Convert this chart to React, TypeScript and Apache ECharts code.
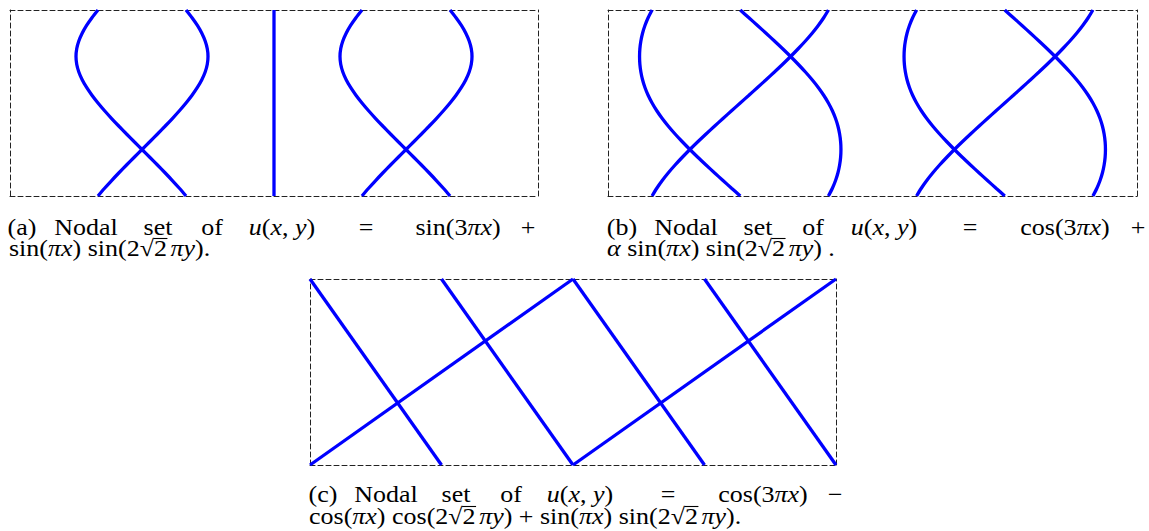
import React, { useEffect, useRef } from "react";
import * as echarts from "echarts";

// Domain of every panel: x in [0, 2], y in [0, 1/sqrt(2)]
const X_MIN = 0;
const X_MAX = 2;
const Y_MIN = 0;
const Y_MAX = 0.7071;

const Y_LEVELS = [
  0, 0.0295, 0.0589, 0.0884, 0.1179, 0.1473, 0.1768, 0.2062, 0.2357, 0.2652,
  0.2946, 0.3241, 0.3536, 0.383, 0.4125, 0.4419, 0.4714, 0.5009, 0.5303,
  0.5598, 0.5893, 0.6187, 0.6482, 0.6776, 0.7071,
];

// Panel (a): x positions of each nodal curve at Y_LEVELS
const A_CURVE_1 = [
  0.3333, 0.3583, 0.385, 0.4128, 0.4414, 0.4706, 0.5, 0.5294, 0.5586, 0.5872,
  0.615, 0.6417, 0.6667, 0.6896, 0.7098, 0.7266, 0.7393, 0.7473, 0.75, 0.7473,
  0.7393, 0.7266, 0.7098, 0.6896, 0.6667,
];
const A_CURVE_2 = [
  0.6667, 0.6417, 0.615, 0.5872, 0.5586, 0.5294, 0.5, 0.4706, 0.4414, 0.4128,
  0.385, 0.3583, 0.3333, 0.3104, 0.2902, 0.2734, 0.2607, 0.2527, 0.25, 0.2527,
  0.2607, 0.2734, 0.2902, 0.3104, 0.3333,
];
const A_CURVE_3 = [
  1.3333, 1.3583, 1.385, 1.4128, 1.4414, 1.4706, 1.5, 1.5294, 1.5586, 1.5872,
  1.615, 1.6417, 1.6667, 1.6896, 1.7098, 1.7266, 1.7393, 1.7473, 1.75, 1.7473,
  1.7393, 1.7266, 1.7098, 1.6896, 1.6667,
];
const A_CURVE_4 = [
  1.6667, 1.6417, 1.615, 1.5872, 1.5586, 1.5294, 1.5, 1.4706, 1.4414, 1.4128,
  1.385, 1.3583, 1.3333, 1.3104, 1.2902, 1.2734, 1.2607, 1.2527, 1.25, 1.2527,
  1.2607, 1.2734, 1.2902, 1.3104, 1.3333,
];
const A_MID_X = [1, 1];
const A_MID_Y = [0, 0.7071];

// Panel (b)
const B_CURVE_1 = [
  0.1667, 0.1845, 0.2051, 0.2282, 0.2536, 0.281, 0.3096, 0.3396, 0.3707, 0.4024,
  0.4347, 0.4672, 0.5, 0.5328, 0.5653, 0.5976, 0.6293, 0.6604, 0.6904, 0.719,
  0.7464, 0.7718, 0.7949, 0.8155, 0.8333,
];
const B_CURVE_2 = [
  0.5, 0.4672, 0.4347, 0.4024, 0.3707, 0.3396, 0.3096, 0.281, 0.2536, 0.2282,
  0.2051, 0.1845, 0.1667, 0.1517, 0.1397, 0.1306, 0.1243, 0.1205, 0.1193,
  0.1205, 0.1243, 0.1306, 0.1397, 0.1517, 0.1667,
];
const B_CURVE_3 = [
  0.8333, 0.8483, 0.8603, 0.8694, 0.8757, 0.8795, 0.8807, 0.8795, 0.8757,
  0.8694, 0.8603, 0.8483, 0.8333, 0.8155, 0.7949, 0.7718, 0.7464, 0.719, 0.6904,
  0.6604, 0.6293, 0.5976, 0.5653, 0.5328, 0.5,
];
const B_CURVE_4 = [
  1.1667, 1.1845, 1.2051, 1.2282, 1.2536, 1.281, 1.3096, 1.3396, 1.3707, 1.4024,
  1.4347, 1.4672, 1.5, 1.5328, 1.5653, 1.5976, 1.6293, 1.6604, 1.6904, 1.719,
  1.7464, 1.7718, 1.7949, 1.8155, 1.8333,
];
const B_CURVE_5 = [
  1.5, 1.4672, 1.4347, 1.4024, 1.3707, 1.3396, 1.3096, 1.281, 1.2536, 1.2282,
  1.2051, 1.1845, 1.1667, 1.1517, 1.1397, 1.1306, 1.1243, 1.1205, 1.1193,
  1.1205, 1.1243, 1.1306, 1.1397, 1.1517, 1.1667,
];
const B_CURVE_6 = [
  1.8333, 1.8483, 1.8603, 1.8694, 1.8757, 1.8795, 1.8807, 1.8795, 1.8757,
  1.8694, 1.8603, 1.8483, 1.8333, 1.8155, 1.7949, 1.7718, 1.7464, 1.719, 1.6904,
  1.6604, 1.6293, 1.5976, 1.5653, 1.5328, 1.5,
];

// Panel (c): straight nodal lines, [x at bottom, x at top]
const C_LINES_X = [
  [0, 1],
  [1, 2],
  [0.5, 0],
  [1, 0.5],
  [1.5, 1],
  [2, 1.5],
];
const C_LINES_Y = [0, 0.7071];

// Captions
const CAP_A_WORDS = ["(a)", "Nodal", "set", "of", "{i|u}({i|x}, {i|y})", "=", "sin(3{i|πx})", "+"];
const CAP_B_WORDS = ["(b)", "Nodal", "set", "of", "{i|u}({i|x}, {i|y})", "=", "cos(3{i|πx})", "+"];
const CAP_C_WORDS = ["(c)", "Nodal", "set", "of", "{i|u}({i|x}, {i|y})", "=", "cos(3{i|πx})", "−"];
// pieces: [text, kind] kind 0 = upright, 1 = italic, 2 = upright under the radical bar
const CAP_A_LINE2: [string, number][] = [
  ["sin(", 0], ["πx", 1], [") sin(2√", 0], ["2", 2], [" ", 3], ["πy", 1], [").", 0],
];
const CAP_B_LINE2: [string, number][] = [
  ["α", 1], [" sin(", 0], ["πx", 1], [") sin(2√", 0], ["2", 2], [" ", 3], ["πy", 1], [") .", 0],
];
const CAP_C_LINE2: [string, number][] = [
  ["cos(", 0], ["πx", 1], [") cos(2√", 0], ["2", 2], [" ", 3], ["πy", 1],
  [") + sin(", 0], ["πx", 1], [") sin(2√", 0], ["2", 2], [" ", 3], ["πy", 1], [").", 0],
];

const FONT_FAMILY = '"Liberation Serif", "Times New Roman", serif';
const FS = 23;
const SX = 1.13;
const BLUE = "#0000ff";

export default function App() {
  const ref = useRef<HTMLDivElement>(null);

  useEffect(() => {
    if (!ref.current) return;
    const chart = echarts.init(ref.current, undefined, { renderer: "svg" });

    const canvas = document.createElement("canvas");
    const ctx = canvas.getContext("2d")!;
    const measure = (s: string, italic: boolean) => {
      ctx.font = `${italic ? "italic " : ""}${FS}px ${FONT_FAMILY}`;
      return ctx.measureText(s).width * SX;
    };

    const grids = [
      { left: 10, top: 10, width: 528, height: 186 },
      { left: 608, top: 10, width: 529, height: 186 },
      { left: 310, top: 279, width: 526, height: 186 },
    ];

    const axisLine = {
      show: true,
      onZero: false,
      lineStyle: { color: "#222222", width: 1, type: [5, 3] as any },
    };
    const xAxes: any[] = [];
    const yAxes: any[] = [];
    grids.forEach((_, gi) => {
      ["bottom", "top"].forEach((pos) =>
        xAxes.push({
          type: "value", gridIndex: gi, position: pos, min: X_MIN, max: X_MAX,
          axisLabel: { show: false }, axisTick: { show: false }, splitLine: { show: false },
          axisLine,
        })
      );
      ["left", "right"].forEach((pos) =>
        yAxes.push({
          type: "value", gridIndex: gi, position: pos, min: Y_MIN, max: Y_MAX,
          axisLabel: { show: false }, axisTick: { show: false }, splitLine: { show: false },
          axisLine,
        })
      );
    });

    const curve = (gi: number, xs: number[], ys: number[], smooth: number) => ({
      type: "line",
      xAxisIndex: gi * 2,
      yAxisIndex: gi * 2,
      data: xs.map((x, i) => [x, ys[i]]),
      showSymbol: false,
      symbol: "none",
      smooth,
      clip: true,
      silent: true,
      z: 3,
      lineStyle: { color: BLUE, width: 3.3, cap: "butt" },
    });

    const series: any[] = [
      curve(0, A_CURVE_1, Y_LEVELS, 0.3),
      curve(0, A_CURVE_2, Y_LEVELS, 0.3),
      curve(0, A_CURVE_3, Y_LEVELS, 0.3),
      curve(0, A_CURVE_4, Y_LEVELS, 0.3),
      curve(0, A_MID_X, A_MID_Y, 0),
      curve(1, B_CURVE_1, Y_LEVELS, 0.3),
      curve(1, B_CURVE_2, Y_LEVELS, 0.3),
      curve(1, B_CURVE_3, Y_LEVELS, 0.3),
      curve(1, B_CURVE_4, Y_LEVELS, 0.3),
      curve(1, B_CURVE_5, Y_LEVELS, 0.3),
      curve(1, B_CURVE_6, Y_LEVELS, 0.3),
      ...C_LINES_X.map((xs) => curve(2, xs, C_LINES_Y, 0)),
    ];

    const rich = {
      i: { fontStyle: "italic", fontSize: FS, fontFamily: FONT_FAMILY, fill: "#000", color: "#000" },
    };
    const txt = (x: number, y: number, text: string, align: string, italic = false) => ({
      type: "text",
      x,
      y,
      scaleX: SX,
      silent: true,
      style: {
        text,
        fill: "#000",
        fontSize: FS,
        fontFamily: FONT_FAMILY,
        fontStyle: italic ? "italic" : "normal",
        align,
        textAlign: align,
        verticalAlign: "middle",
        textVerticalAlign: "middle",
        rich,
      },
    });

    const graphics: any[] = [];
    const line1 = (words: string[], centers: number[], y: number) => {
      words.forEach((w, i) => graphics.push(txt(centers[i], y, w, "center")));
    };
    const line2 = (pieces: [string, number][], x0: number, y: number) => {
      let cx = x0;
      pieces.forEach(([s, k]) => {
        if (k === 3) {
          cx += measure(" ", false) * 0.55;
          return;
        }
        const wdt = measure(s, k === 1);
        graphics.push(txt(cx, y, s, "left", k === 1));
        if (k === 2) {
          graphics.push({
            type: "line",
            silent: true,
            shape: { x1: cx - 0.5, y1: y - 9.5, x2: cx + wdt + 0.5, y2: y - 9.5 },
            style: { stroke: "#000", lineWidth: 1.1 },
          });
        }
        cx += wdt;
      });
    };

    line1(CAP_A_WORDS, [22, 86, 158, 212, 282, 366, 458, 528], 227);
    line2(CAP_A_LINE2, 9, 248);
    line1(CAP_B_WORDS, [622, 686, 758, 813, 884, 970, 1065, 1138], 227);
    line2(CAP_B_LINE2, 607, 248);
    line1(CAP_C_WORDS, [323, 386, 456, 511, 580, 668, 763, 835], 494);
    line2(CAP_C_LINE2, 309, 516);

    chart.setOption({
      animation: false,
      backgroundColor: "#ffffff",
      grid: grids.map((g) => ({ ...g, containLabel: false })),
      xAxis: xAxes,
      yAxis: yAxes,
      series,
      graphic: graphics,
    });

    return () => chart.dispose();
  }, []);

  return (
    <div
      ref={ref}
      style={{ position: "fixed", left: 0, top: 0, width: 1149, height: 531, background: "#fff" }}
    />
  );
}
